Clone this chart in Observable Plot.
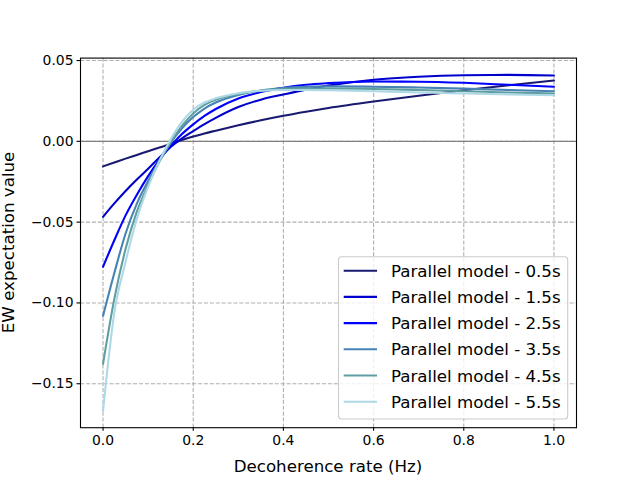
<!DOCTYPE html>
<html>
<head>
<meta charset="utf-8">
<script src="https://cdn.jsdelivr.net/npm/d3@7"></script>
<script src="https://cdn.jsdelivr.net/npm/@observablehq/plot@0.6"></script>
<style>
  body { margin: 0; background: #fff; }
  #chart { width: 640px; height: 480px; }
</style>
</head>
<body>
<div id="chart"></div>
<script>
// Decoherence rate (Hz)
const rates = [0, 0.025, 0.05, 0.075, 0.1, 0.125, 0.15, 0.175, 0.2, 0.225, 0.25, 0.3, 0.35, 0.4, 0.45, 0.5, 0.6, 0.7, 0.8, 0.9, 1.0];

// EW expectation value, one array per series
const ew05 = [-0.0155, -0.0131, -0.0107, -0.0084, -0.0061, -0.0038, -0.0016, 0.0008, 0.0030, 0.0049, 0.0066, 0.0099, 0.0130, 0.0158, 0.0183, 0.0206, 0.0246, 0.0282, 0.0316, 0.0347, 0.0376];
const ew15 = [-0.0467, -0.0384, -0.0307, -0.0236, -0.0170, -0.0100, -0.0035, 0.0018, 0.0063, 0.0106, 0.0145, 0.0212, 0.0258, 0.0290, 0.0320, 0.0345, 0.0381, 0.0400, 0.0409, 0.0411, 0.0407];
const ew25 = [-0.0776, -0.0612, -0.0458, -0.0330, -0.0215, -0.0115, -0.0030, 0.0045, 0.0105, 0.0157, 0.0200, 0.0265, 0.0305, 0.0332, 0.0350, 0.0360, 0.0370, 0.0369, 0.0362, 0.0350, 0.0338];
const ew35 = [-0.1080, -0.0815, -0.0570, -0.0385, -0.0245, -0.0120, -0.0010, 0.0080, 0.0150, 0.0203, 0.0240, 0.0287, 0.0315, 0.0330, 0.0337, 0.0340, 0.0338, 0.0333, 0.0326, 0.0318, 0.0310];
const ew45 = [-0.1377, -0.0975, -0.0665, -0.0435, -0.0270, -0.0125, -0.0005, 0.0095, 0.0172, 0.0225, 0.0257, 0.0292, 0.0313, 0.0322, 0.0326, 0.0327, 0.0324, 0.0318, 0.0310, 0.0302, 0.0296];
const ew55 = [-0.1667, -0.1060, -0.0745, -0.0480, -0.0280, -0.0120, 0.0012, 0.0120, 0.0195, 0.0240, 0.0266, 0.0298, 0.0313, 0.0318, 0.0318, 0.0316, 0.0310, 0.0302, 0.0296, 0.0290, 0.0285];

const seriesNames = [
  "Parallel model - 0.5s",
  "Parallel model - 1.5s",
  "Parallel model - 2.5s",
  "Parallel model - 3.5s",
  "Parallel model - 4.5s",
  "Parallel model - 5.5s"
];
const seriesColors = ["#191970", "#0000cd", "#0000ff", "#4682b4", "#5f9ea0", "#add8e6"];

const xTicks = [0, 0.2, 0.4, 0.6, 0.8, 1.0];
const yTicks = [-0.15, -0.10, -0.05, 0.00, 0.05];

const xLabel = "Decoherence rate (Hz)";
const yLabel = "EW expectation value";

const allSeries = [ew05, ew15, ew25, ew35, ew45, ew55];
const rows = allSeries.flatMap((vals, i) =>
  vals.map((v, j) => ({ rate: rates[j], ew: v, series: seriesNames[i] }))
);

const W = 640, H = 480;
const mL = 80, mR = 64, mT = 57.6, mB = 52.8;

const plot = Plot.plot({
  width: W,
  height: H,
  marginTop: mT,
  marginBottom: mB,
  marginLeft: mL,
  marginRight: mR,
  style: { fontFamily: "DejaVu Sans", fontSize: "13.9px", background: "white", color: "black" },
  x: { domain: [-0.05, 1.05] },
  y: { domain: [-0.1772, 0.0515] },
  color: { domain: seriesNames, range: seriesColors },
  marks: [
    Plot.gridX(xTicks, { stroke: "#b0b0b0", strokeOpacity: 1, strokeWidth: 1.1, strokeDasharray: "4.1,1.8" }),
    Plot.gridY(yTicks, { stroke: "#b0b0b0", strokeOpacity: 1, strokeWidth: 1.1, strokeDasharray: "4.1,1.8" }),
    Plot.ruleY([0], { stroke: "#808080", strokeWidth: 1.4 }),
    Plot.line(rows, { x: "rate", y: "ew", stroke: "series", strokeWidth: 2.08, curve: "monotone-x" }),
    Plot.frame({ stroke: "black", strokeWidth: 1.1 }),
    Plot.axisX(xTicks, { tickSize: 3.5, tickPadding: 3.5, strokeWidth: 1.1, tickFormat: d3.format(".1f"), label: null, fontSize: 13.9 }),
    Plot.axisY(yTicks, { tickSize: 3.5, tickPadding: 3.5, strokeWidth: 1.1, tickFormat: d3.format(".2f"), label: null, fontSize: 13.9 })
  ]
});

document.getElementById("chart").appendChild(plot);

const svg = d3.select(plot);

// axis titles
svg.append("text")
  .attr("x", (mL + (W - mR)) / 2)
  .attr("y", 472)
  .attr("text-anchor", "middle")
  .attr("font-family", "DejaVu Sans")
  .attr("font-size", "16.67px")
  .attr("fill", "black")
  .text(xLabel);

svg.append("text")
  .attr("transform", `translate(14, ${(mT + (H - mB)) / 2}) rotate(-90)`)
  .attr("text-anchor", "middle")
  .attr("font-family", "DejaVu Sans")
  .attr("font-size", "16.67px")
  .attr("fill", "black")
  .text(yLabel);

// legend (lower right, inside axes)
const lg = svg.append("g");
const lgLeft = 338.5, lgRight = 567.7, lgTop = 256.7, lgBottom = 419;
lg.append("rect")
  .attr("x", lgLeft).attr("y", lgTop)
  .attr("width", lgRight - lgLeft).attr("height", lgBottom - lgTop)
  .attr("rx", 3).attr("ry", 3)
  .attr("fill", "white").attr("fill-opacity", 0.8)
  .attr("stroke", "#cccccc").attr("stroke-width", 1.1);
seriesNames.forEach((name, i) => {
  const yy = 270.7 + i * 26.2;
  lg.append("line")
    .attr("x1", lgLeft + 5.2).attr("x2", lgLeft + 5.2 + 33.3)
    .attr("y1", yy).attr("y2", yy)
    .attr("stroke", seriesColors[i]).attr("stroke-width", 2.08);
  lg.append("text")
    .attr("x", lgLeft + 52.5)
    .attr("y", yy)
    .attr("dy", "0.36em")
    .attr("text-anchor", "start")
    .attr("font-family", "DejaVu Sans")
    .attr("font-size", "16.67px")
    .attr("fill", "black")
    .text(name);
});
</script>
</body>
</html>
